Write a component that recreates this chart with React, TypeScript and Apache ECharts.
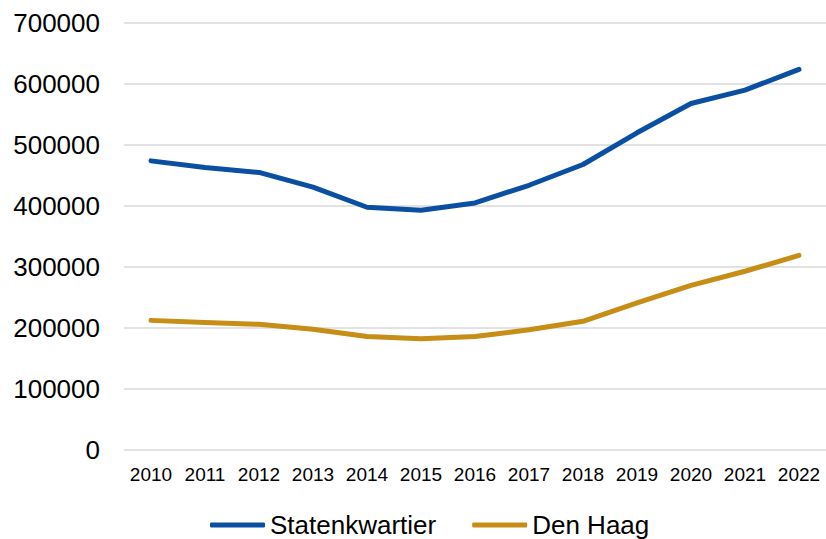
import React, { useEffect, useRef } from "react";
import * as echarts from "echarts";

const years = ["2010", "2011", "2012", "2013", "2014", "2015", "2016", "2017", "2018", "2019", "2020", "2021", "2022"];
const statenkwartier = [474000, 463000, 455000, 431000, 398000, 393000, 405000, 434000, 468000, 520000, 568000, 590000, 624000];
const denHaag = [212500, 209000, 206000, 198000, 186000, 182500, 186000, 197000, 211000, 241000, 270000, 293000, 319000];
const seriesNames = ["Statenkwartier", "Den Haag"];
const seriesColors = ["#0B4FA3", "#C68D17"];

export default function App() {
  const ref = useRef<HTMLDivElement>(null);
  useEffect(() => {
    if (!ref.current) return;
    const chart = echarts.init(ref.current, undefined, { renderer: "svg" });
    const font = "'Liberation Sans', Arial, sans-serif";
    chart.setOption({
      animation: false,
      backgroundColor: "#ffffff",
      textStyle: { fontFamily: font },
      grid: { left: 124, top: 23, width: 705, height: 427, containLabel: false },
      legend: {
        left: 210,
        top: 512,
        padding: 0,
        itemWidth: 55,
        itemHeight: 5,
        itemGap: 36,
        icon: "roundRect",
        textStyle: { fontSize: 26, color: "#000000", fontFamily: font },
        data: seriesNames,
      },
      xAxis: {
        type: "category",
        data: years,
        boundaryGap: true,
        axisLine: { show: false },
        axisTick: { show: false },
        axisLabel: { interval: 0, fontSize: 19, color: "#000000", margin: 15, fontFamily: font },
      },
      yAxis: {
        type: "value",
        min: 0,
        max: 700000,
        interval: 100000,
        axisLine: { show: false },
        axisTick: { show: false },
        axisLabel: {
          fontSize: 26,
          color: "#000000",
          margin: 24,
          fontFamily: font,
          formatter: (v: number) => String(v),
        },
        splitLine: { lineStyle: { color: "#d9d9d9", width: 1.5 } },
      },
      series: [
        {
          name: seriesNames[0],
          type: "line",
          data: statenkwartier,
          showSymbol: false,
          symbol: "none",
          lineStyle: { width: 5, color: seriesColors[0], cap: "round", join: "round" },
          itemStyle: { color: seriesColors[0] },
        },
        {
          name: seriesNames[1],
          type: "line",
          data: denHaag,
          showSymbol: false,
          symbol: "none",
          lineStyle: { width: 5, color: seriesColors[1], cap: "round", join: "round" },
          itemStyle: { color: seriesColors[1] },
        },
      ],
    });
    return () => chart.dispose();
  }, []);
  return (
    <div
      ref={ref}
      style={{ position: "absolute", left: 0, top: 0, width: 826, height: 539 }}
    />
  );
}
